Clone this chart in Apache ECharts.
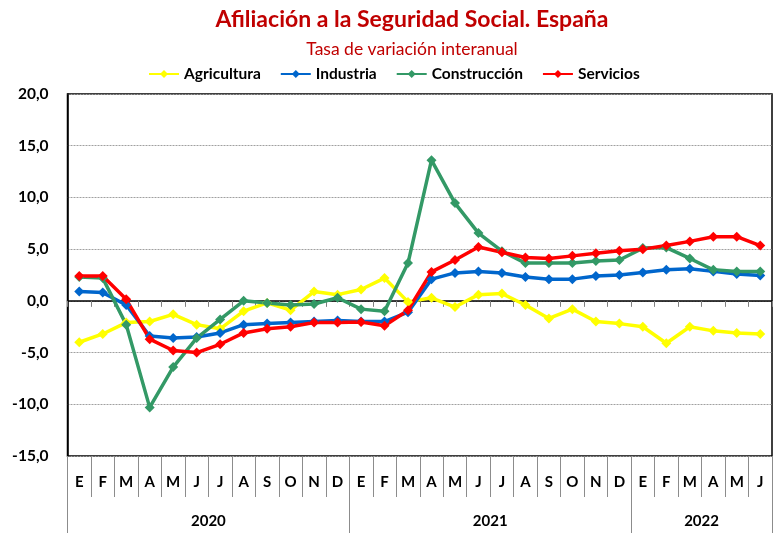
<!DOCTYPE html>
<html>
<head>
<meta charset="utf-8">
<script src="https://cdn.jsdelivr.net/npm/echarts@6/dist/echarts.min.js"></script>
<style>html,body{margin:0;padding:0;background:#fff}#c{width:781px;height:533px}</style>
</head>
<body>
<div id="c"></div>
<script>
const months = ['E','F','M','A','M','J','J','A','S','O','N','D','E','F','M','A','M','J','J','A','S','O','N','D','E','F','M','A','M','J'];
const years = ['2020','2021','2022'];
const yearCenters = [6, 18, 27];
const yearBounds = [0, 12, 24, 30];
const yTicks = [-15, -10, -5, 0, 5, 10, 15, 20];

const agricultura = [-4.0,-3.2,-2.1,-2.0,-1.3,-2.3,-2.7,-1.0,-0.2,-0.9,0.9,0.6,1.1,2.2,-0.1,0.3,-0.6,0.6,0.7,-0.4,-1.7,-0.8,-2.0,-2.2,-2.5,-4.1,-2.5,-2.9,-3.1,-3.2];
const industria = [0.9,0.8,-0.4,-3.4,-3.6,-3.5,-3.1,-2.3,-2.2,-2.1,-2.0,-1.9,-2.0,-2.0,-1.1,2.1,2.7,2.85,2.7,2.3,2.1,2.1,2.4,2.5,2.75,3.0,3.1,2.85,2.6,2.45];
const construccion = [2.3,2.2,-2.3,-10.3,-6.4,-3.6,-1.8,0.0,-0.2,-0.4,-0.3,0.3,-0.8,-1.0,3.65,13.6,9.45,6.55,4.8,3.65,3.65,3.65,3.85,3.95,5.1,5.15,4.1,3.0,2.85,2.85];
const servicios = [2.4,2.4,0.15,-3.7,-4.8,-5.0,-4.2,-3.1,-2.7,-2.5,-2.1,-2.1,-2.05,-2.4,-0.9,2.8,3.95,5.2,4.7,4.2,4.1,4.35,4.6,4.85,5.0,5.35,5.75,6.2,6.2,5.35];

const FONT = 'Lato';
const chart = echarts.init(document.getElementById('c'), null, {renderer: 'canvas'});

function mk(name, data, color) {
  return {
    name, type: 'line', data, xAxisIndex: 0, yAxisIndex: 0,
    symbol: 'diamond', symbolSize: 10,
    lineStyle: {width: 3.5, color},
    itemStyle: {color},
    emphasis: {disabled: true}
  };
}

chart.setOption({
  animation: false,
  backgroundColor: '#fff',
  textStyle: {fontFamily: FONT},
  graphic: [
    {type: 'text', x: 412, y: 20, style: {text: 'Afiliación a la Seguridad Social. España', fill: '#C00000', font: 'bold 23px ' + FONT, textAlign: 'center', textVerticalAlign: 'middle'}},
    {type: 'text', x: 412, y: 49, style: {text: 'Tasa de variación interanual', fill: '#C00000', font: '17.5px ' + FONT, textAlign: 'center', textVerticalAlign: 'middle'}}
  ],
  legend: {
    left: 143, top: 61, itemWidth: 30, itemHeight: 10, itemGap: 19,
    textStyle: {fontFamily: FONT, fontWeight: 'bold', fontSize: 15.5, color: '#000'},
    data: ['Agricultura', 'Industria', 'Construcción', 'Servicios']
  },
  grid: {left: 67.5, right: 9, top: 94, bottom: 77, show: true, borderColor: '#000', borderWidth: 1.5, containLabel: false},
  xAxis: [
    {
      type: 'category', data: months, boundaryGap: true,
      axisLine: {onZero: true, lineStyle: {color: '#000', width: 1.5}},
      axisTick: {show: true, interval: 0, length: 6, lineStyle: {color: '#808080'}},
      axisLabel: {show: false}, splitLine: {show: false}
    },
    {
      type: 'category', data: months, boundaryGap: true, position: 'bottom',
      axisLine: {show: false, onZero: false},
      axisTick: {show: true, interval: 0, length: 41, lineStyle: {color: '#8c8c8c'}},
      axisLabel: {interval: 0, margin: 19, fontFamily: FONT, fontWeight: 'bold', fontSize: 15, color: '#000'},
      splitLine: {show: false}
    },
    {
      type: 'value', min: 0, max: 30, position: 'bottom',
      axisLine: {show: false, onZero: false},
      axisTick: {show: true, customValues: yearBounds, length: 77, lineStyle: {color: '#8c8c8c'}},
      axisLabel: {customValues: yearCenters, margin: 58, fontFamily: FONT, fontWeight: 'bold', fontSize: 15, color: '#000',
        formatter: v => years[yearCenters.indexOf(v)] || ''},
      splitLine: {show: false}
    }
  ],
  yAxis: {
    type: 'value', min: -15, max: 20, interval: 5,
    axisLine: {show: true, lineStyle: {color: '#000', width: 1.5}},
    axisTick: {show: false},
    axisLabel: {margin: 19, fontFamily: FONT, fontWeight: 'bold', fontSize: 15.5, color: '#000',
      formatter: v => v.toFixed(1).replace('.', ',')},
    splitLine: {show: true, lineStyle: {color: '#a0a0a0', type: [2, 1], width: 1}}
  },
  series: [
    mk('Agricultura', agricultura, '#FFFF00'),
    mk('Industria', industria, '#0066CC'),
    mk('Construcción', construccion, '#339966'),
    mk('Servicios', servicios, '#FF0000')
  ]
});
</script>
</body>
</html>
